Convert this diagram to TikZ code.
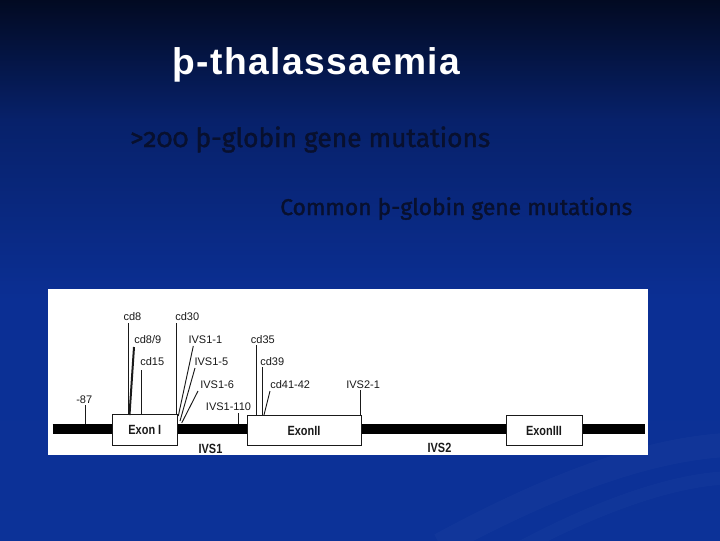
\documentclass[tikz,border=0pt]{standalone}
\usepackage{fontspec}
\setmainfont{Liberation Sans}
\newfontfamily\titlefont[LetterSpace=4]{Liberation Sans}
\newfontfamily\subfont[Numbers=OldStyle,FakeBold=1.5]{Fira Sans}
\definecolor{bgtop}{HTML}{020A22}
\definecolor{bgmid}{HTML}{07216A}
\definecolor{bglow}{HTML}{0B2F94}
\definecolor{bgbot}{HTML}{0C3298}
\definecolor{subtxt}{HTML}{08102E}
\definecolor{ink}{HTML}{1A1A1A}
\tikzset{
  lab/.style={font=\fontsize{8.25pt}{9pt}\selectfont, text=ink, inner sep=0pt, anchor=base west},
  mline/.style={draw=ink, line width=0.7pt},
  thickm/.style={draw=ink, line width=1.5pt},
  exonbox/.style={draw=ink, line width=0.7pt, fill=white, inner sep=0pt,
    minimum height=22.9pt, font=\bfseries\fontsize{10pt}{11pt}\selectfont, text=ink},
  ivslab/.style={font=\bfseries\fontsize{10pt}{11pt}\selectfont, text=ink, inner sep=0pt},
  gene/.style={draw=black, line width=7.5pt},
}
\begin{document}
\begin{tikzpicture}[x=0.75pt,y=-0.75pt]
\useasboundingbox (0,0) rectangle (720,540);
% background
\shade[top color=bgtop, bottom color=bgmid] (0,0) rectangle (720,120);
\shade[top color=bgmid, bottom color=bglow] (0,119.5) rectangle (720,300);
\shade[top color=bglow, bottom color=bgbot] (0,299.5) rectangle (720,540);
% faint swooshes
\draw[white, opacity=0.025, line width=18pt] (440,545) .. controls (560,480) and (650,450) .. (725,445);
\draw[white, opacity=0.02, line width=10pt] (520,548) .. controls (610,500) and (680,480) .. (725,478);
% titles
\node[anchor=base west, inner sep=0pt, text=white] (title) at (172,74)
  {\resizebox{216pt}{!}{\titlefont\bfseries þ-thalassaemia}};
\node[anchor=base west, inner sep=0pt, text=subtxt] (sub1) at (130,147)
  {\resizebox{270pt}{!}{\subfont >200 þ-globin gene mutations}};
\node[anchor=base west, inner sep=0pt, text=subtxt] (sub2) at (280,215)
  {\resizebox{264pt}{!}{\subfont Common þ-globin gene mutations}};
% panel
\fill[white] (48,289) rectangle (648,455);
% gene line
\coordinate (gL) at (52.7,429);
\coordinate (gR) at (645,429);
\draw[gene] (gL) -- (gR);
% exons
\node[exonbox, minimum width=48.2pt] (ex1) at (144.85,430) {\scalebox{0.82}[1]{Exon I}};
\node[exonbox, minimum width=85.5pt] (ex2) at (304,430.5) {\scalebox{0.82}[1]{ExonII}};
\node[exonbox, minimum width=57pt] (ex3) at (544,430.5) {\scalebox{0.82}[1]{ExonIII}};
\node[ivslab] (ivs1) at (210.5,448.5) {\scalebox{0.82}[1]{IVS1}};
\node[ivslab] (ivs2) at (439.5,447.7) {\scalebox{0.82}[1]{IVS2}};
% mutation labels
\node[lab] (l87) at (76,403.3) {-87};
\node[lab] (lcd8) at (123.3,320.7) {cd8};
\node[lab] (lcd89) at (134,343.3) {cd8/9};
\node[lab] (lcd15) at (140,365) {cd15};
\node[lab] (lcd30) at (175,320.7) {cd30};
\node[lab] (livs11) at (188.3,343.3) {IVS1-1};
\node[lab] (livs15) at (194.3,365) {IVS1-5};
\node[lab] (livs16) at (200,388) {IVS1-6};
\node[lab] (livs110) at (205.7,410) {IVS1-110};
\node[lab] (lcd35) at (250.7,343.3) {cd35};
\node[lab] (lcd39) at (260,365) {cd39};
\node[lab] (lcd41) at (270,388) {cd41-42};
\node[lab] (livs21) at (346,388) {IVS2-1};
% line end points
\coordinate (a87t) at (85,405);   \coordinate (a87b) at (85,424);
\coordinate (a8t) at (128,323);   \coordinate (a8b) at (128,415);
\coordinate (a89t) at (134,347);  \coordinate (a89b) at (129.5,415);
\coordinate (a15t) at (141.7,370); \coordinate (a15b) at (141.7,415);
\coordinate (a30t) at (176.7,323); \coordinate (a30b) at (176.7,415);
\coordinate (i11t) at (193.3,346); \coordinate (i11b) at (178.3,416);
\coordinate (i15t) at (195,368);   \coordinate (i15b) at (180,421);
\coordinate (i16t) at (198,391);   \coordinate (i16b) at (181.7,423);
\coordinate (i110t) at (238,413);  \coordinate (i110b) at (238,424);
\coordinate (a35t) at (256.7,345); \coordinate (a35b) at (256.7,415);
\coordinate (a39t) at (262,367);   \coordinate (a39b) at (262,415);
\coordinate (a41t) at (270,391);   \coordinate (a41b) at (264,415);
\coordinate (i21t) at (360.7,390); \coordinate (i21b) at (360.7,415);
% mutation lines
\draw[mline] (a87t) -- (a87b);
\draw[mline] (a8t) -- (a8b);
\draw[thickm] (a89t) -- (a89b);
\draw[mline] (a15t) -- (a15b);
\draw[mline] (a30t) -- (a30b);
\draw[mline] (i11t) -- (i11b);
\draw[mline] (i15t) -- (i15b);
\draw[mline] (i16t) -- (i16b);
\draw[mline] (i110t) -- (i110b);
\draw[mline] (a35t) -- (a35b);
\draw[mline] (a39t) -- (a39b);
\draw[mline] (a41t) -- (a41b);
\draw[mline] (i21t) -- (i21b);
\end{tikzpicture}
\end{document}
